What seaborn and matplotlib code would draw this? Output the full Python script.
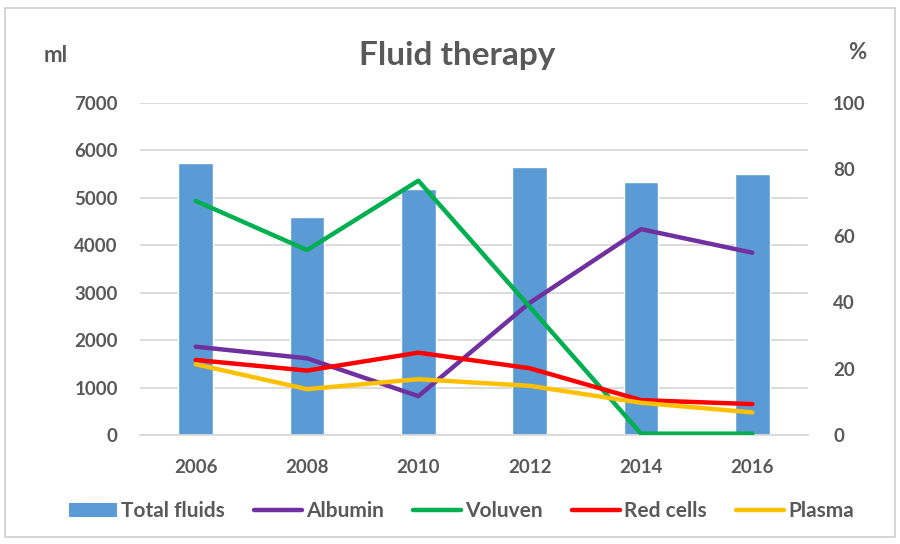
import pandas as pd
import matplotlib.pyplot as plt
import seaborn as sns
from matplotlib.patches import Rectangle
from matplotlib.lines import Line2D
from matplotlib.patches import Patch

# Values
years = ['2006', '2008', '2010', '2012', '2014', '2016']
total_fluids = [5730, 4595, 5185, 5660, 5330, 5505]   # ml, left axis
albumin = [26.6, 23.1, 11.7, 39.8, 62.0, 54.9]         # %, right axis
voluven = [70.5, 55.7, 76.6, 38.6, 0.4, 0.4]
red_cells = [22.6, 19.4, 24.8, 20.1, 10.5, 9.3]
plasma = [21.3, 13.8, 16.8, 14.8, 9.7, 6.8]

line_names = ['Albumin', 'Voluven', 'Red cells', 'Plasma']
line_colors = ['#7030a0', '#00b050', '#ff0000', '#ffc000']
bar_color = '#5b9bd5'
text_color = '#595959'

sns.set_style('white')
plt.rcParams['font.family'] = ['Lato', 'DejaVu Sans']

bars = pd.DataFrame({'year': years, 'ml': total_fluids})
lines = pd.DataFrame({'pos': range(len(years)), 'Albumin': albumin, 'Voluven': voluven,
                      'Red cells': red_cells, 'Plasma': plasma})
lines_long = lines.melt(id_vars='pos', var_name='series', value_name='pct')

fig = plt.figure(figsize=(9, 5.44), dpi=100)
fig.patches.append(Rectangle((0.006, 0.012), 0.988, 0.973, transform=fig.transFigure,
                             fill=False, edgecolor='#d0d0d0', linewidth=1.2))

ax = fig.add_axes([0.1556, 0.2004, 0.7422, 0.6103])
sns.barplot(data=bars, x='year', y='ml', color=bar_color, width=0.31, ax=ax,
            saturation=1, zorder=2)
ax.set_xlim(-0.5, 5.5)
ax.set_ylim(0, 7000)
ax.set_yticks(range(0, 7001, 1000))
ax.grid(axis='y', color='#d9d9d9', linewidth=1.3, zorder=0)
ax.set_axisbelow(True)
ax.set_xlabel('')
ax.set_ylabel('')
for s in ['top', 'left', 'right']:
    ax.spines[s].set_visible(False)
ax.spines['bottom'].set_color('#d9d9d9')
ax.spines['bottom'].set_linewidth(1.3)
ax.tick_params(axis='x', length=0, pad=17, labelsize=13.5, labelcolor=text_color)
ax.tick_params(axis='y', length=0, pad=16, labelsize=13.5, labelcolor=text_color)
for lab in ax.get_xticklabels() + ax.get_yticklabels():
    lab.set_fontweight('bold')

ax2 = ax.twinx()
sns.lineplot(data=lines_long, x='pos', y='pct', hue='series', hue_order=line_names,
             palette=line_colors, linewidth=3.2, ax=ax2, legend=False,
             solid_capstyle='round', solid_joinstyle='round')
ax2.set_xlim(-0.5, 5.5)
ax2.set_ylim(0, 100)
ax2.set_yticks(range(0, 101, 20))
ax2.set_xlabel('')
ax2.set_ylabel('')
for s in ['top', 'left', 'right', 'bottom']:
    ax2.spines[s].set_visible(False)
ax2.tick_params(axis='y', length=0, pad=18, labelsize=13.5, labelcolor=text_color)
for lab in ax2.get_yticklabels():
    lab.set_fontweight('bold')

fig.text(0.508, 0.898, 'Fluid therapy', ha='center', va='center', fontsize=24,
         fontweight='bold', color=text_color)
fig.text(0.062, 0.898, 'ml', ha='center', va='center', fontsize=16,
         fontweight='bold', color=text_color)
fig.text(0.953, 0.904, '%', ha='center', va='center', fontsize=16,
         fontweight='bold', color=text_color)

handles = [Patch(facecolor=bar_color, edgecolor='none', label='Total fluids')]
handles += [Line2D([0], [0], color=c, linewidth=3.2, solid_capstyle='round', label=n)
            for n, c in zip(line_names, line_colors)]
leg = fig.legend(handles=handles, loc='center', bbox_to_anchor=(0.513, 0.06), ncol=5,
                 frameon=False, handlelength=2.3, handletextpad=0.2, columnspacing=1.4,
                 prop={'size': 15, 'weight': 'bold'})
for t in leg.get_texts():
    t.set_color(text_color)

fig.savefig('out.png', dpi=100)
